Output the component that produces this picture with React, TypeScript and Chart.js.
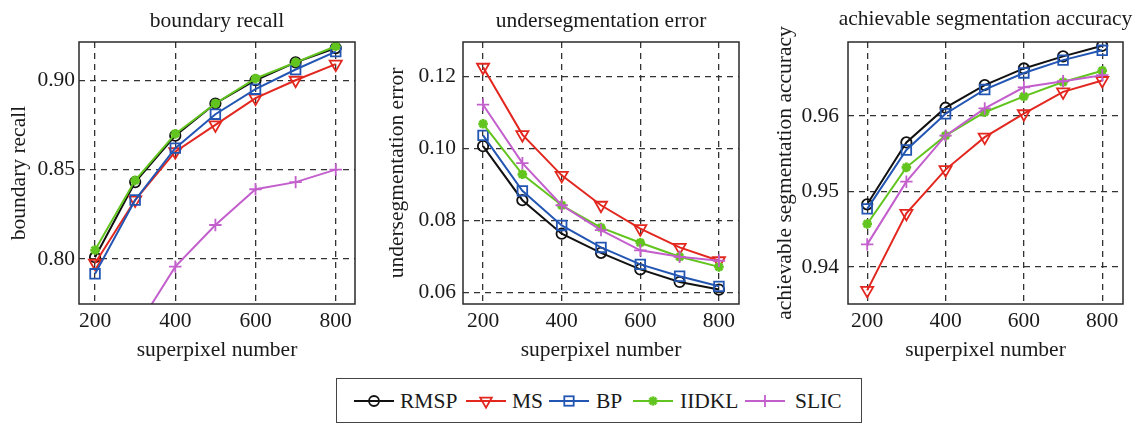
import React, { useEffect, useRef } from "react";
import { Chart, registerables } from "chart.js";
Chart.register(...registerables);

const FONT = "'Liberation Serif', 'Times New Roman', serif";
const FS = 21.5;
Chart.defaults.font.family = FONT;
Chart.defaults.font.size = FS;

// ---------- data ----------
const SUPERPIXELS = [200, 300, 400, 500, 600, 700, 800];
const X_TICKS = [200, 400, 600, 800];
const X_TICK_LABELS = ["200", "400", "600", "800"];

const SERIES_NAMES = ["RMSP", "MS", "BP", "IIDKL", "SLIC"];

// boundary recall
const BR_RMSP = [0.801, 0.843, 0.869, 0.887, 0.9, 0.91, 0.918];
const BR_MS = [0.7976, 0.833, 0.86, 0.875, 0.89, 0.9, 0.909];
const BR_BP = [0.7917, 0.833, 0.862, 0.881, 0.895, 0.906, 0.916];
const BR_IIDKL = [0.805, 0.844, 0.87, 0.887, 0.901, 0.91, 0.919];
const BR_SLIC = [0.72, 0.76, 0.7957, 0.819, 0.839, 0.843, 0.85];
const BR_TICKS = [0.8, 0.85, 0.9];
const BR_TICK_LABELS = ["0.80", "0.85", "0.90"];

// undersegmentation error
const UE_RMSP = [0.1007, 0.0857, 0.0764, 0.0711, 0.0665, 0.063, 0.0609];
const UE_MS = [0.1226, 0.1039, 0.0926, 0.0843, 0.0778, 0.0726, 0.0689];
const UE_BP = [0.1037, 0.0883, 0.0787, 0.0726, 0.0679, 0.0646, 0.0618];
const UE_IIDKL = [0.1069, 0.0929, 0.0843, 0.0781, 0.0739, 0.07, 0.0672];
const UE_SLIC = [0.1122, 0.096, 0.0843, 0.0774, 0.0718, 0.07, 0.0689];
const UE_TICKS = [0.06, 0.08, 0.1, 0.12];
const UE_TICK_LABELS = ["0.06", "0.08", "0.10", "0.12"];

// achievable segmentation accuracy
const ASA_RMSP = [0.9483, 0.9565, 0.9611, 0.9641, 0.9663, 0.9679, 0.9693];
const ASA_MS = [0.9369, 0.9471, 0.9529, 0.9572, 0.9603, 0.9632, 0.9647];
const ASA_BP = [0.9477, 0.9555, 0.9603, 0.9635, 0.9657, 0.9674, 0.9687];
const ASA_IIDKL = [0.9457, 0.9532, 0.9574, 0.9605, 0.9626, 0.9645, 0.966];
const ASA_SLIC = [0.943, 0.9513, 0.9574, 0.961, 0.9638, 0.9646, 0.9654];
const ASA_TICKS = [0.94, 0.95, 0.96];
const ASA_TICK_LABELS = ["0.94", "0.95", "0.96"];

// ---------- styles ----------
const COLORS = ["#111111", "#e2271f", "#2356b3", "#62c41e", "#c35fcc"];
const POINT_STYLES = ["circle", "triangle", "rect", "star", "cross"];
const POINT_RADII = [5.2, 7, 6.8, 4.8, 6.2];
const POINT_ROT = [0, 180, 0, 0, 0];

type PanelCfg = {
  left: number;
  w: number;
  h: number;
  yWidth: number;
  yPad: number;
  padRight: number;
  padTop: number;
  xMin: number;
  xMax: number;
  yMin: number;
  yMax: number;
  yTicks: number[];
  yTickLabels: string[];
  series: number[][];
  title: string;
  yLabel: string;
  titleY: number;
  yLabelX: number;
  xLabelY: number;
};

const PANELS: PanelCfg[] = [
  {
    left: 0, w: 370, h: 370, yWidth: 79, yPad: 4, padRight: 15, padTop: 42,
    xMin: 160, xMax: 848, yMin: 0.7748, yMax: 0.9214,
    yTicks: BR_TICKS, yTickLabels: BR_TICK_LABELS,
    series: [BR_RMSP, BR_MS, BR_BP, BR_IIDKL, BR_SLIC],
    title: "boundary recall", yLabel: "boundary recall",
    titleY: 21, yLabelX: 19, xLabelY: 350,
  },
  {
    left: 370, w: 390, h: 370, yWidth: 93, yPad: 7, padRight: 21, padTop: 42,
    xMin: 149, xMax: 851, yMin: 0.0569, yMax: 0.1296,
    yTicks: UE_TICKS, yTickLabels: UE_TICK_LABELS,
    series: [UE_RMSP, UE_MS, UE_BP, UE_IIDKL, UE_SLIC],
    title: "undersegmentation error", yLabel: "undersegmentation error",
    titleY: 21, yLabelX: 27, xLabelY: 350,
  },
  {
    left: 760, w: 378, h: 370, yWidth: 88, yPad: 9, padRight: 15, padTop: 42,
    xMin: 151, xMax: 853, yMin: 0.9351, yMax: 0.9698,
    yTicks: ASA_TICKS, yTickLabels: ASA_TICK_LABELS,
    series: [ASA_RMSP, ASA_MS, ASA_BP, ASA_IIDKL, ASA_SLIC],
    title: "achievable segmentation accuracy", yLabel: "achievable segmentation accuracy",
    titleY: 19, yLabelX: 25, xLabelY: 350,
  },
];

const framePlugin = {
  id: "frameTitles",
  afterDatasetsDraw(chart: any, _args: any, opts: any) {
    const { ctx, chartArea } = chart;
    const { left, right, top, bottom } = chartArea;
    ctx.save();
    ctx.strokeStyle = "#2a2a2a";
    ctx.lineWidth = 1.5;
    ctx.setLineDash([]);
    ctx.strokeRect(left, top, right - left, bottom - top);
    ctx.fillStyle = "#1a1a1a";
    ctx.font = `${FS}px ${FONT}`;
    ctx.textAlign = "center";
    ctx.textBaseline = "middle";
    const cx = (left + right) / 2;
    const cy = (top + bottom) / 2;
    ctx.fillText(opts.title, cx, opts.titleY);
    ctx.fillText("superpixel number", cx, opts.xLabelY);
    ctx.translate(opts.yLabelX, cy);
    ctx.rotate(-Math.PI / 2);
    ctx.fillText(opts.yLabel, 0, 0);
    ctx.restore();
  },
};

function Panel({ cfg }: { cfg: PanelCfg }) {
  const ref = useRef<HTMLCanvasElement>(null);
  useEffect(() => {
    const datasets = cfg.series.map((vals, i) => ({
      label: SERIES_NAMES[i],
      data: vals.map((y, j) => ({ x: SUPERPIXELS[j], y })),
      borderColor: COLORS[i],
      backgroundColor: "rgba(0,0,0,0)",
      pointBorderColor: COLORS[i],
      pointBackgroundColor: i === 3 ? COLORS[i] : "rgba(0,0,0,0)",
      pointStyle: POINT_STYLES[i],
      pointRadius: POINT_RADII[i],
      pointRotation: POINT_ROT[i],
      pointBorderWidth: i === 3 ? 2.8 : 1.8,
      borderWidth: 2,
      tension: 0,
      order: 4 - i,
    }));
    const chart = new Chart(ref.current!, {
      type: "line",
      data: { datasets },
      plugins: [framePlugin],
      options: {
        animation: false,
        responsive: false,
        devicePixelRatio: 1,
        layout: { padding: { left: 0, right: cfg.padRight, top: cfg.padTop, bottom: 0 } },
        plugins: {
          legend: { display: false },
          tooltip: { enabled: false },
          title: { display: false },
          frameTitles: { title: cfg.title, yLabel: cfg.yLabel, titleY: cfg.titleY, yLabelX: cfg.yLabelX, xLabelY: cfg.xLabelY },
        } as any,
        scales: {
          x: {
            type: "linear",
            min: cfg.xMin,
            max: cfg.xMax,
            afterBuildTicks: (s: any) => { s.ticks = X_TICKS.map((v) => ({ value: v })); },
            afterFit: (s: any) => { s.height = cfg.h - 304; },
            ticks: {
              callback: (_v: any, i: number) => X_TICK_LABELS[i],
              font: { family: FONT, size: FS },
              color: "#1a1a1a",
              padding: 4,
              maxRotation: 0,
            },
            grid: { color: "#333", lineWidth: 1.3, drawTicks: false },
            border: { display: false, dash: [6, 5] },
          },
          y: {
            type: "linear",
            min: cfg.yMin,
            max: cfg.yMax,
            afterBuildTicks: (s: any) => { s.ticks = cfg.yTicks.map((v) => ({ value: v })); },
            afterFit: (s: any) => { s.width = cfg.yWidth; },
            ticks: {
              callback: (_v: any, i: number) => cfg.yTickLabels[i],
              font: { family: FONT, size: FS },
              color: "#1a1a1a",
              padding: cfg.yPad,
            },
            grid: { color: "#333", lineWidth: 1.3, drawTicks: false },
            border: { display: false, dash: [6, 5] },
          },
        },
      } as any,
    });
    return () => chart.destroy();
  }, []);
  return (
    <canvas
      ref={ref}
      width={cfg.w}
      height={cfg.h}
      style={{ position: "absolute", left: cfg.left, top: 0, width: cfg.w, height: cfg.h }}
    />
  );
}

function Marker({ i }: { i: number }) {
  const c = COLORS[i];
  const cx = 20, cy = 9;
  let m: React.ReactNode = null;
  if (i === 0) m = <circle cx={cx} cy={cy} r={5} fill="none" stroke={c} strokeWidth={1.8} />;
  if (i === 1) m = <polygon points={`${cx - 5.8},${cy - 3.4} ${cx + 5.8},${cy - 3.4} ${cx},${cy + 6.6}`} fill="none" stroke={c} strokeWidth={1.8} />;
  if (i === 2) m = <rect x={cx - 4.7} y={cy - 4.7} width={9.4} height={9.4} fill="none" stroke={c} strokeWidth={1.8} />;
  if (i === 3)
    m = (
      <g stroke={c} strokeWidth={2.8}>
        <line x1={cx - 4.6} y1={cy} x2={cx + 4.6} y2={cy} />
        <line x1={cx} y1={cy - 4.6} x2={cx} y2={cy + 4.6} />
        <line x1={cx - 3.3} y1={cy - 3.3} x2={cx + 3.3} y2={cy + 3.3} />
        <line x1={cx - 3.3} y1={cy + 3.3} x2={cx + 3.3} y2={cy - 3.3} />
      </g>
    );
  if (i === 4)
    m = (
      <g stroke={c} strokeWidth={1.8}>
        <line x1={cx} y1={cy - 6} x2={cx} y2={cy + 6} />
      </g>
    );
  return (
    <svg width={40} height={18} style={{ display: "block" }}>
      <line x1={0} y1={cy} x2={40} y2={cy} stroke={c} strokeWidth={2} />
      {m}
    </svg>
  );
}

const LEGEND_ITEM_X = [17, 129, 212, 296, 408];
const LEGEND_TEXT_GAP = [6, 6, 7, 7, 10];

function Legend() {
  return (
    <div
      style={{
        position: "absolute",
        left: 336,
        top: 378,
        width: 526,
        height: 45,
        border: "1.5px solid #444",
        boxSizing: "border-box",
        fontFamily: FONT,
        fontSize: FS,
        color: "#1a1a1a",
      }}
    >
      {SERIES_NAMES.map((n, i) => (
        <div
          key={n}
          style={{ position: "absolute", left: LEGEND_ITEM_X[i], top: 12, display: "flex", alignItems: "center" }}
        >
          <Marker i={i} />
          <span style={{ marginLeft: LEGEND_TEXT_GAP[i], lineHeight: "20px", whiteSpace: "nowrap" }}>{n}</span>
        </div>
      ))}
    </div>
  );
}

export default function App() {
  return (
    <div style={{ position: "absolute", left: 0, top: 0, width: 1138, height: 424, background: "#fff", overflow: "hidden" }}>
      {PANELS.map((p, i) => (
        <Panel key={i} cfg={p} />
      ))}
      <Legend />
    </div>
  );
}
